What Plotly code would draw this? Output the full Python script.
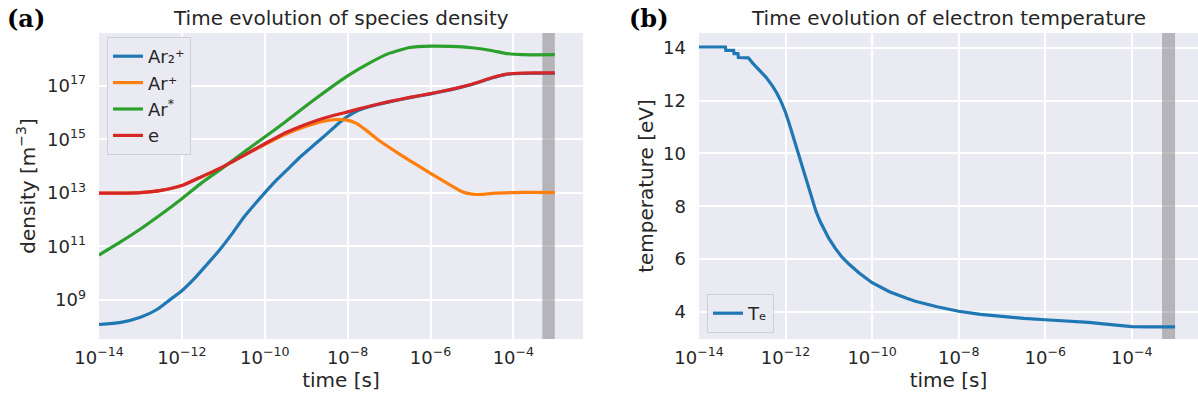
import plotly.graph_objects as go

# ---- species densities (log10 of time [s] and log10 of density [m^-3]) ----
ar2p_logt = [-14.0, -13.5, -13.0, -12.6, -12.3, -12.0, -11.7, -11.4, -11.1, -10.8,
             -10.5, -10.2, -10.0, -9.7, -9.4, -9.1, -8.8, -8.5, -8.25, -8.0,
             -7.75, -7.5, -7.0, -6.5, -6.0, -5.5, -5.0, -4.5, -4.2, -4.0,
             -3.5, -3.0]
ar2p_logn = [8.09, 8.16, 8.36, 8.65, 9.0, 9.35, 9.8, 10.32, 10.85, 11.45,
             12.1, 12.65, 13.0, 13.5, 13.95, 14.4, 14.8, 15.2, 15.55, 15.85,
             16.07, 16.2, 16.39, 16.55, 16.69, 16.85, 17.04, 17.29, 17.41, 17.44,
             17.46, 17.46]

arp_logt = [-14.0, -13.5, -13.0, -12.5, -12.0, -11.5, -11.0, -10.5, -10.0, -9.5,
            -9.0, -8.6, -8.3, -8.05, -7.8, -7.55, -7.3, -7.0, -6.5, -6.0,
            -5.5, -5.25, -5.0, -4.8, -4.5, -4.0, -3.5, -3.0]
arp_logn = [12.99, 12.99, 13.01, 13.09, 13.27, 13.62, 13.98, 14.4, 14.8, 15.18,
            15.48, 15.66, 15.73, 15.72, 15.6, 15.33, 15.02, 14.7, 14.2, 13.73,
            13.27, 13.05, 12.95, 12.94, 12.98, 13.01, 13.02, 13.01]

arstar_logt = [-14.0, -13.5, -13.0, -12.5, -12.0, -11.5, -11.0, -10.5, -10.0, -9.5,
               -9.0, -8.5, -8.0, -7.5, -7.0, -6.5, -6.0, -5.5, -5.0, -4.5,
               -4.2, -3.8, -3.0]
arstar_logn = [10.68, 11.15, 11.65, 12.2, 12.78, 13.4, 13.95, 14.52, 15.08, 15.65,
               16.25, 16.82, 17.36, 17.82, 18.2, 18.42, 18.47, 18.46, 18.41, 18.3,
               18.2, 18.15, 18.15]

e_logt = [-14.0, -13.5, -13.0, -12.5, -12.0, -11.5, -11.0, -10.5, -10.0, -9.5,
          -9.0, -8.5, -8.0, -7.5, -7.0, -6.5, -6.0, -5.5, -5.0, -4.5,
          -4.2, -4.0, -3.5, -3.0]
e_logn = [12.99, 12.99, 13.01, 13.09, 13.27, 13.62, 13.98, 14.4, 14.83, 15.24,
          15.56, 15.82, 16.02, 16.22, 16.4, 16.56, 16.7, 16.86, 17.05, 17.3,
          17.42, 17.45, 17.47, 17.47]

# ---- electron temperature (log10 of time [s], eV) ----
te_logt = [-14.0, -13.39, -13.38, -13.2, -13.19, -13.1, -13.09, -12.86, -12.75, -12.6,
           -12.45, -12.3, -12.2, -12.1, -12.0, -11.9, -11.8, -11.7, -11.6, -11.5,
           -11.4, -11.3, -11.2, -11.1, -11.0, -10.85, -10.7, -10.53, -10.3, -10.0,
           -9.6, -9.2, -9.0, -8.5, -8.0, -7.5, -7.0, -6.5, -6.0, -5.5,
           -5.0, -4.6, -4.3, -4.0, -3.6, -3.0]
te_ev = [14.03, 14.03, 13.9, 13.9, 13.78, 13.78, 13.63, 13.62, 13.4, 13.15,
         12.88, 12.55, 12.28, 11.95, 11.55, 11.05, 10.5, 9.95, 9.4, 8.85,
         8.3, 7.82, 7.42, 7.08, 6.78, 6.4, 6.08, 5.8, 5.47, 5.1,
         4.76, 4.51, 4.4, 4.19, 4.02, 3.9, 3.81, 3.75, 3.7, 3.66,
         3.6, 3.53, 3.47, 3.44, 3.43, 3.43]

# shaded time window [s]
band_start, band_end = 5e-4, 1e-3

# tick positions
x_exponents = [-14, -12, -10, -8, -6, -4]
y_exponents = [9, 11, 13, 15, 17]
te_ticks = [4, 6, 8, 10, 12, 14]

# axis ranges (log10 for the log axes)
x1_range = [-14, -2.32]
y1_range = [7.55, 18.96]
x2_range = [-14, -2.47]
y2_range = [2.97, 14.56]

TEXT = "#262626"
BG = "#EAEAF2"
FONT = "DejaVu Sans"
BAND = "rgba(128,128,128,0.5)"


def pw(v):
    return [10.0 ** x for x in v]


def sup_label(k):
    s = str(k).replace("-", "\u2212")
    return f"10<sup>{s}</sup>"


fig = go.Figure()

# shaded window, drawn first so the curves sit on top of it
fig.add_trace(go.Scatter(
    x=[band_start, band_start, band_end, band_end, band_start],
    y=pw([y1_range[0], y1_range[1], y1_range[1], y1_range[0], y1_range[0]]),
    mode="lines", fill="toself", fillcolor=BAND, line=dict(width=0),
    hoverinfo="skip", showlegend=False, xaxis="x", yaxis="y",
))
fig.add_trace(go.Scatter(
    x=[band_start, band_start, band_end, band_end, band_start],
    y=[y2_range[0], y2_range[1], y2_range[1], y2_range[0], y2_range[0]],
    mode="lines", fill="toself", fillcolor=BAND, line=dict(width=0),
    hoverinfo="skip", showlegend=False, xaxis="x2", yaxis="y2",
))

series = [
    ("Ar\u2082\u207a", ar2p_logt, ar2p_logn, "#1f77b4"),
    ("Ar\u207a", arp_logt, arp_logn, "#ff7f0e"),
    ("Ar<sup>*</sup>", arstar_logt, arstar_logn, "#2ca02c"),
    ("e", e_logt, e_logn, "#d62728"),
]
for name, lt, ln, col in series:
    fig.add_trace(go.Scatter(
        x=pw(lt), y=pw(ln), mode="lines", name=name,
        line=dict(color=col, width=3.2, shape="spline", smoothing=0.5),
        xaxis="x", yaxis="y", legend="legend",
    ))

fig.add_trace(go.Scatter(
    x=pw(te_logt), y=te_ev, mode="lines", name="T\u2091",
    line=dict(color="#1f77b4", width=3.2),
    xaxis="x2", yaxis="y2", legend="legend2",
))

W, H = 1198, 400


def fx(px):
    return px / W


def fy(py):
    return 1 - py / H


axis_common = dict(
    showline=False, zeroline=False, ticks="", showgrid=True, automargin=False,
    gridcolor="white", gridwidth=1.6,
    tickfont=dict(family=FONT, size=18, color=TEXT),
    title_font=dict(family=FONT, size=20, color=TEXT),
)

fig.update_layout(
    width=W, height=H, autosize=False,
    margin=dict(l=0, r=0, t=0, b=0, autoexpand=False),
    paper_bgcolor="white", plot_bgcolor=BG,
    font=dict(family=FONT, color=TEXT),
    xaxis=dict(
        domain=[fx(99), fx(583)], anchor="y", type="log", range=x1_range,
        tickvals=[10.0 ** k for k in x_exponents], ticktext=[sup_label(k) for k in x_exponents],
        title=dict(text="time [s]", standoff=4), ticklabelstandoff=6, **axis_common,
    ),
    yaxis=dict(
        domain=[fy(339), fy(33)], anchor="x", type="log", range=y1_range,
        tickvals=[10.0 ** k for k in y_exponents], ticktext=[sup_label(k) for k in y_exponents],
        title=dict(text="density [m<sup>\u22123</sup>]", standoff=6), ticklabelstandoff=12,
        **axis_common,
    ),
    xaxis2=dict(
        domain=[fx(699), 1.0], anchor="y2", type="log", range=x2_range,
        tickvals=[10.0 ** k for k in x_exponents], ticktext=[sup_label(k) for k in x_exponents],
        title=dict(text="time [s]", standoff=4), ticklabelstandoff=6, **axis_common,
    ),
    yaxis2=dict(
        domain=[fy(339), fy(33)], anchor="x2", range=y2_range,
        tickvals=te_ticks, ticktext=[str(v) for v in te_ticks],
        title=dict(text="temperature [eV]", standoff=4), ticklabelstandoff=12,
        **axis_common,
    ),
    legend=dict(
        x=fx(107), y=fy(37), xanchor="left", yanchor="top",
        bgcolor=BG, bordercolor="#CFCFD6", borderwidth=1,
        font=dict(family=FONT, size=18, color=TEXT),
    ),
    legend2=dict(
        x=fx(707), y=fy(333), xanchor="left", yanchor="bottom",
        bgcolor=BG, bordercolor="#CFCFD6", borderwidth=1,
        font=dict(family=FONT, size=18, color=TEXT),
    ),
    showlegend=True,
)

# panel titles and letters
for x_mid, title in ((fx((99 + 583) / 2), "Time evolution of species density"),
                     (fx((699 + 1198) / 2), "Time evolution of electron temperature")):
    fig.add_annotation(
        x=x_mid, y=fy(32), xref="paper", yref="paper", xanchor="center", yanchor="bottom",
        text=title, showarrow=False, font=dict(family=FONT, size=20, color=TEXT),
    )
for x_left, letter in ((fx(5), "(a)"), (fx(627), "(b)")):
    fig.add_annotation(
        x=x_left, y=fy(19), xref="paper", yref="paper", xanchor="left", yanchor="middle",
        text=f"<b>{letter}</b>", showarrow=False,
        font=dict(family="DejaVu Serif", size=24, color="black"),
    )

fig.write_html("out.html")
